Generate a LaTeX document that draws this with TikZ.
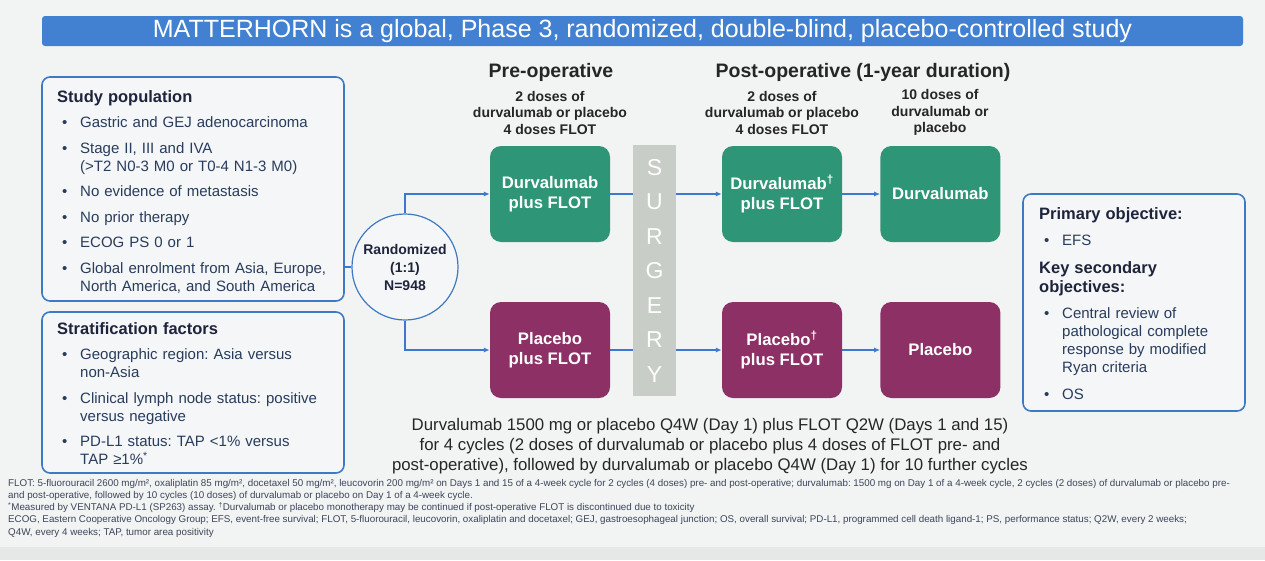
\documentclass[tikz,border=0pt]{standalone}
\usepackage{fontspec}
\setmainfont{Liberation Sans}
\usetikzlibrary{arrows.meta,positioning,calc}
\definecolor{bgray}{RGB}{242,243,243}
\definecolor{boxfill}{RGB}{245,246,247}
\definecolor{ttlblue}{RGB}{66,129,210}
\definecolor{edgeblue}{RGB}{62,122,196}
\definecolor{arrblue}{RGB}{58,120,210}
\definecolor{armgreen}{RGB}{46,150,118}
\definecolor{armpurple}{RGB}{140,48,102}
\definecolor{surggray}{RGB}{200,205,199}
\definecolor{navy}{RGB}{30,36,60}
\definecolor{itemblue}{RGB}{40,60,92}
\definecolor{fntgray}{RGB}{60,70,88}
\definecolor{bandgray}{RGB}{230,232,232}
\frenchspacing
% list helpers
\newcommand{\phead}[1]{{\fontsize{16.5}{19}\selectfont\bfseries\color{navy}#1\par}}
\newcommand{\bitem}[1]{\par\hangindent=23pt\hangafter=1\noindent\makebox[23pt][l]{\hspace{5pt}\textbullet}#1\par}

\begin{document}
\begin{tikzpicture}[x=1pt,y=-1pt,
  panel/.style={draw=edgeblue, line width=1.6pt, rounded corners=8pt, fill=boxfill},
  itemtext/.style={anchor=north west, inner sep=0pt, text width=#1, align=left,
                   text=itemblue, font=\fontsize{15}{18}\selectfont,
                   execute at begin node={\setlength{\parskip}{7.5pt}}},
  arm/.style={rounded corners=11pt, minimum width=120pt, minimum height=96pt,
              align=center, text=white, font=\fontsize{16.7}{20}\selectfont\bfseries},
  hdr/.style={font=\fontsize{19.5}{22}\selectfont\bfseries, text=black!85},
  dose/.style={font=\fontsize{14}{16.5}\selectfont\bfseries, align=center, text=black!85},
  arr/.style={-{Latex[length=6pt,width=5pt]}, draw=arrblue, line width=1.4pt},
  ln/.style={draw=arrblue, line width=1.4pt}
]
\useasboundingbox (0,0) rectangle (1265,560);
\fill[bgray] (0,0) rectangle (1265,560);
\fill[bandgray] (0,547) rectangle (1265,560);

% Title bar
\node[fill=ttlblue, rounded corners=3pt, minimum width=1201pt, minimum height=30pt,
      text=white, font=\fontsize{25}{28}\selectfont] (title) at (642.5,31)
  {MATTERHORN is a global, Phase 3, randomized, double-blind, placebo-controlled study};

% Study population
\node[panel, minimum width=302pt, minimum height=224pt] (study) at (193,189) {};
\node[itemtext=280pt] (studytxt) at (57,90)
  {\phead{Study population}
   \bitem{Gastric and GEJ adenocarcinoma}
   \bitem{Stage II, III and IVA\newline(>T2 N0-3 M0 or T0-4 N1-3 M0)}
   \bitem{No evidence of metastasis}
   \bitem{No prior therapy}
   \bitem{ECOG PS 0 or 1}
   \bitem{Global enrolment from Asia, Europe,\newline North America, and South America}};

% Stratification factors
\node[panel, minimum width=302pt, minimum height=161pt] (strat) at (193,392.5) {};
\node[itemtext=280pt] (strattxt) at (57,322)
  {\phead{Stratification factors}
   \bitem{Geographic region: Asia versus\newline non-Asia}
   \bitem{Clinical lymph node status: positive\newline versus negative}
   \bitem{PD-L1 status: TAP <1\% versus\newline TAP ≥1\%\textsuperscript{*}}};

% Randomization
\node[circle, draw=edgeblue, line width=1.2pt, fill=boxfill, minimum size=106pt,
      inner sep=0pt, align=center, text=navy,
      font=\fontsize{14}{18}\selectfont\bfseries] (rand) at (405,267)
  {Randomized\\(1:1)\\N=948};

% Phase headers
\node[hdr] (prehdr) at (551,72) {Pre-operative};
\node[hdr] (posthdr) at (863,72) {Post-operative (1-year duration)};
\node[dose] (predose) at (550,112.5) {2 doses of\\durvalumab or placebo\\4 doses FLOT};
\node[dose] (postdose) at (782,112.5) {2 doses of\\durvalumab or placebo\\4 doses FLOT};
\node[dose] (monodose) at (940,112.5) {10 doses of\\durvalumab or\\placebo};

% Treatment arms
\node[arm, fill=armgreen] (pre1) at (550,194) {Durvalumab\\plus FLOT};
\node[arm, fill=armpurple] (pre2) at (550,350) {Placebo\\plus FLOT};
\node[arm, fill=armgreen] (post1) at (782,194) {Durvalumab\textsuperscript{\textdagger}\\plus FLOT};
\node[arm, fill=armpurple] (post2) at (782,350) {Placebo\textsuperscript{\textdagger}\\plus FLOT};
\node[arm, fill=armgreen, right=38pt of post1] (mono1) {Durvalumab};
\node[arm, fill=armpurple, right=38pt of post2] (mono2) {Placebo};

% Surgery
\node[fill=surggray, minimum width=43pt, minimum height=251pt, inner sep=0pt,
      align=center, text=white, font=\fontsize{23}{34.5}\selectfont] (surg) at (654.5,270.5)
  {S\\U\\R\\G\\E\\R\\Y};

% Objectives
\node[panel, minimum width=222pt, minimum height=217pt] (obj) at (1134,302.5) {};
\node[itemtext=200pt, execute at begin node={\setlength{\parskip}{8.5pt}}] (objtxt) at (1039,207)
  {\phead{Primary objective:}
   \bitem{EFS}
   \phead{Key secondary\newline objectives:}
   \bitem{Central review of\newline pathological complete\newline response by modified\newline Ryan criteria}
   \bitem{OS}};

% Connectors
\draw[ln] (study.east |- rand.west) -- (rand.west);
\draw[arr] (rand.north) |- (pre1.west);
\draw[arr] (rand.south) |- (pre2.west);
\draw[ln] (pre1.east) -- (pre1.east -| surg.west);
\draw[ln] (pre2.east) -- (pre2.east -| surg.west);
\draw[arr] (surg.east |- post1.west) -- (post1.west);
\draw[arr] (surg.east |- post2.west) -- (post2.west);
\draw[arr] (post1) -- (mono1);
\draw[arr] (post2) -- (mono2);

% Dosing summary
\node[align=center, text=black!85, font=\fontsize{16.8}{20}\selectfont] (dosing) at (710,446)
  {Durvalumab 1500 mg or placebo Q4W (Day 1) plus FLOT Q2W (Days 1 and 15)\\
   for 4 cycles (2 doses of durvalumab or placebo plus 4 doses of FLOT pre- and\\
   post-operative), followed by durvalumab or placebo Q4W (Day 1) for 10 further cycles};

% Footnotes
\node[anchor=north west, inner sep=0pt, align=left, text=fntgray,
      font=\fontsize{9.8}{12.2}\selectfont] (notes) at (8,479)
  {FLOT: 5-fluorouracil 2600 mg/m², oxaliplatin 85 mg/m², docetaxel 50 mg/m², leucovorin 200 mg/m² on Days 1 and 15 of a 4-week cycle for 2 cycles (4 doses) pre- and post-operative; durvalumab: 1500 mg on Day 1 of a 4-week cycle, 2 cycles (2 doses) of durvalumab or placebo pre-\\
   and post-operative, followed by 10 cycles (10 doses) of durvalumab or placebo on Day 1 of a 4-week cycle.\\
   \textsuperscript{*}Measured by VENTANA PD-L1 (SP263) assay. \textsuperscript{\textdagger}Durvalumab or placebo monotherapy may be continued if post-operative FLOT is discontinued due to toxicity\\
   ECOG, Eastern Cooperative Oncology Group; EFS, event-free survival; FLOT, 5-fluorouracil, leucovorin, oxaliplatin and docetaxel; GEJ, gastroesophageal junction; OS, overall survival; PD-L1, programmed cell death ligand-1; PS, performance status; Q2W, every 2 weeks;\\
   Q4W, every 4 weeks; TAP, tumor area positivity};
\end{tikzpicture}
\end{document}
